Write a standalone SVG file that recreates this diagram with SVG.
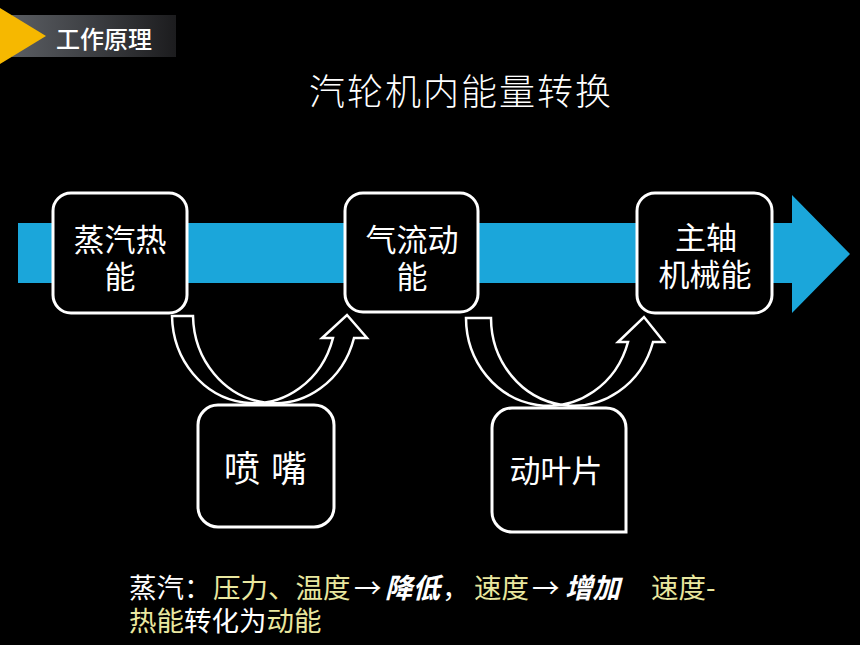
<svg xmlns="http://www.w3.org/2000/svg" width="860" height="645" viewBox="0 0 860 645">
<defs>
<linearGradient id="hdr" x1="0" y1="0" x2="1" y2="0">
<stop offset="0" stop-color="#5a5d62"/>
<stop offset="0.5" stop-color="#3c3e42"/>
<stop offset="1" stop-color="#1c1c1e"/>
</linearGradient>
<style>
.t{font-family:"Noto Sans CJK SC","Noto Sans",sans-serif;fill:#fff}
.box{fill:#000;stroke:#fff;stroke-width:3}
.carrow{fill:#000;stroke:#fff;stroke-width:2.5;stroke-linejoin:miter}
.n{font-size:31px;text-anchor:middle}
.y{fill:#e9e79f}
.bi{font-weight:bold;font-style:italic}
</style>
</defs>
<rect width="860" height="645" fill="#000"/>
<g id="header">
<rect x="12" y="15" width="164" height="42" fill="url(#hdr)"/>
<polygon points="0,8 46,36 0,64" fill="#f6b800"/>
<text class="t" x="56" y="48" font-size="24" font-weight="500">工作原理</text>
</g>
<text id="title" class="t" x="461" y="105" font-size="36" font-weight="300" letter-spacing="2" text-anchor="middle" fill="#eee">汽轮机内能量转换</text>
<path id="flow" d="M18,223 L792,223 L792,195 L850,254 L792,313 L792,283 L18,283 Z" fill="#1ba6da"/>
<g id="connectors">
<path class="carrow" d="M172,316 A82,89 0 0 0 333,338 L322,338 L347,315 L367,338 L354,338 A82,89 0 0 1 193,316 Z"/>
<path class="carrow" d="M466,318 A82.6,88 0 0 0 628,342 L618,342 L644,317 L664,342 L653,342 A82.6,88 0 0 1 491,318 Z"/>
</g>
<g id="node-steam">
<rect class="box" x="53" y="193" width="134" height="120" rx="18"/>
<text class="t n"><tspan x="120" y="251">蒸汽热</tspan><tspan x="120" y="288">能</tspan></text>
</g>
<g id="node-flow">
<rect class="box" x="345" y="193" width="133" height="119" rx="18"/>
<text class="t n"><tspan x="412" y="251">气流动</tspan><tspan x="412" y="288">能</tspan></text>
</g>
<g id="node-shaft">
<rect class="box" x="637" y="193" width="135" height="120" rx="18"/>
<text class="t n"><tspan x="706" y="249">主轴</tspan><tspan x="705" y="286">机械能</tspan></text>
</g>
<g id="node-nozzle">
<rect class="box" x="198" y="405" width="136" height="122" rx="20"/>
<text class="t" font-size="36" y="482"><tspan x="224">喷</tspan><tspan x="271">嘴</tspan></text>
</g>
<g id="node-blade">
<path class="box" d="M512,408 H606 A20,20 0 0 1 626,428 V532 H512 A20,20 0 0 1 492,512 V428 A20,20 0 0 1 512,408 Z"/>
<text class="t n" x="556" y="482">动叶片</text>
</g>
<g id="notes">
<text class="t" font-size="27.5"><tspan x="129" y="598">蒸汽：</tspan><tspan class="y" x="213">压力、温度</tspan><tspan x="354">→</tspan><tspan class="bi" x="385">降低</tspan><tspan x="442">，</tspan><tspan class="y" x="474">速度</tspan><tspan x="532">→</tspan><tspan class="bi" x="565">增加</tspan><tspan class="y" x="651">速度-</tspan><tspan class="y" x="129" y="631">热能</tspan><tspan>转化为</tspan><tspan class="y">动能</tspan></text>
</g>
</svg>
